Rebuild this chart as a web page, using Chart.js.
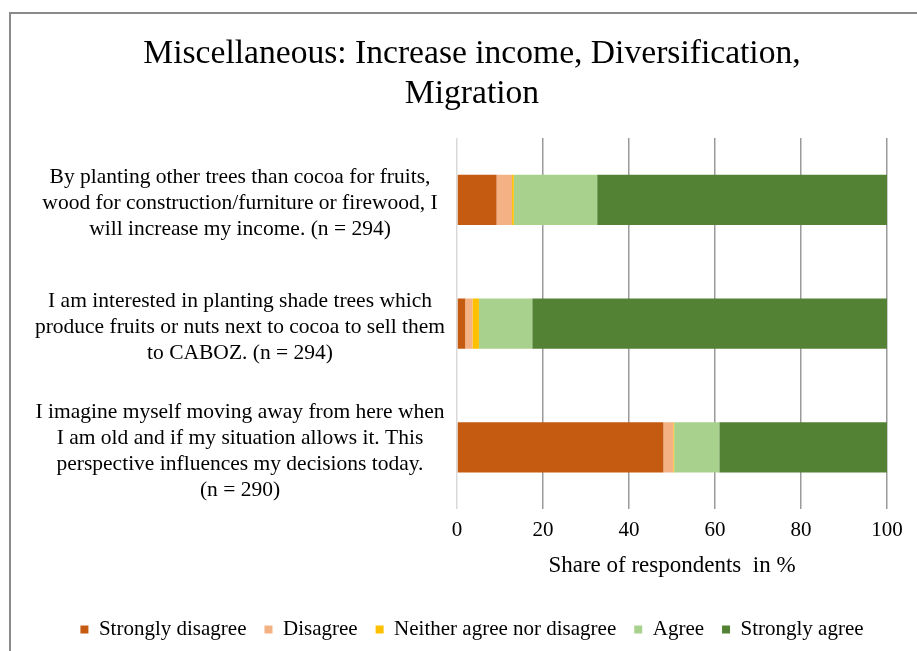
<!DOCTYPE html>
<html>
<head>
<meta charset="utf-8">
<script src="https://cdn.jsdelivr.net/npm/chart.js@4.4.0/dist/chart.umd.min.js"></script>
<style>
  html, body { margin: 0; padding: 0; background: #fff; overflow: hidden; }
  .frame { position: absolute; left: 9px; top: 12px; width: 1000px; height: 1000px; border: 2px solid #8a8a8a; }
  #chart { position: absolute; left: 0; top: 0; }
</style>
</head>
<body>
<div class="frame"></div>
<canvas id="chart" width="917" height="651"></canvas>
<script>
const statements = [
    ['By planting other trees than cocoa for fruits,', 'wood for construction/furniture or firewood, I', 'will increase my income. (n = 294)'],
    ['I am interested in planting shade trees which', 'produce fruits or nuts next to cocoa to sell them', 'to CABOZ. (n = 294)'],
    ['I imagine myself moving away from here when', 'I am old and if my situation allows it. This', 'perspective influences my decisions today.', '(n = 290)'],
];
const responses = ['Strongly disagree', 'Disagree', 'Neither agree nor disagree', 'Agree', 'Strongly agree'];
const stronglyDisagree = [9.2, 1.9, 48.0];
const disagree = [3.6, 1.7, 2.3];
const neither = [0.4, 1.5, 0.2];
const agree = [19.4, 12.4, 10.5];
const stronglyAgree = [67.4, 82.5, 39.0];
const xTicks = [0, 20, 40, 60, 80, 100];
const colors = ['#C55A11', '#F4B183', '#FFC000', '#A9D18E', '#548235'];

const serif = 'Liberation Serif';
const seriesValues = [stronglyDisagree, disagree, neither, agree, stronglyAgree];
const labelFont = { family: serif, size: 21.5, lineHeight: 1.21 };
const labelCenterX = 240; // where the statement text is centred

// widest statement line, so the mirrored tick labels can be centred at labelCenterX
const measure = document.createElement('canvas').getContext('2d');
measure.font = `${labelFont.size}px "${serif}"`;
const widestLine = Math.max(...statements.flat().map(s => measure.measureText(s).width));

new Chart(document.getElementById('chart'), {
    type: 'bar',
    data: {
        labels: statements,
        datasets: responses.map((name, i) => ({
            label: name,
            data: seriesValues[i],
            backgroundColor: colors[i],
            borderWidth: 0,
            barPercentage: 0.405,
            categoryPercentage: 1,
        })),
    },
    options: {
        indexAxis: 'y',
        responsive: false,
        animation: false,
        layout: { padding: { left: 57, right: 30, top: 14, bottom: 1 } },
        plugins: {
            title: {
                display: true,
                text: ['Miscellaneous: Increase income, Diversification,', 'Migration'],
                color: '#000',
                font: { family: serif, size: 33.6, weight: 'normal', lineHeight: 1.19 },
                padding: { top: 20, bottom: 24 },
            },
            legend: {
                position: 'bottom',
                labels: {
                    color: '#000',
                    font: { family: serif, size: 21 },
                    boxWidth: 8,
                    boxHeight: 8,
                    padding: 18,
                },
            },
            tooltip: { enabled: false },
        },
        scales: {
            x: {
                stacked: true,
                min: 0,
                max: 100,
                afterBuildTicks: (axis) => { axis.ticks = xTicks.map(v => ({ value: v })); },
                grid: {
                    color: (ctx) => ctx.tick && ctx.tick.value === 0 ? '#d9d9d9' : '#9a9a9a',
                    lineWidth: 1.5,
                    drawTicks: false,
                },
                border: { display: false },
                ticks: { color: '#000', font: { family: serif, size: 21 }, padding: 9 },
                title: {
                    display: true,
                    text: 'Share of respondents  in %',
                    color: '#000',
                    font: { family: serif, size: 23 },
                    padding: { top: 0, bottom: 21 },
                },
            },
            y: {
                stacked: true,
                grid: { display: false, drawTicks: false },
                border: { display: false },
                afterFit: (axis) => { axis.width = 400; },
                ticks: {
                    color: '#000',
                    autoSkip: false,
                    // mirrored labels are not clipped to the axis box, so they can sit left of it
                    mirror: true,
                    crossAlign: 'center',
                    padding: labelCenterX - 457 - widestLine / 2,
                    labelOffset: 4,
                    font: labelFont,
                },
            },
        },
    },
});
</script>
</body>
</html>
